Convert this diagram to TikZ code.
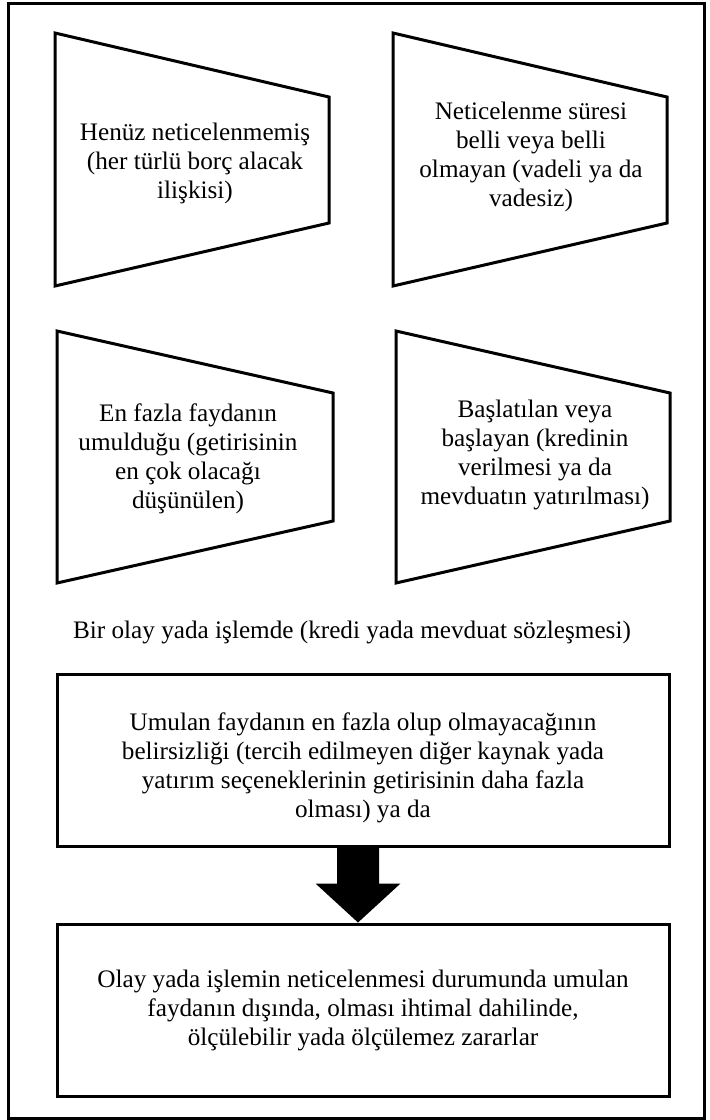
\documentclass[tikz,border=0pt]{standalone}
\usepackage{fontspec}
\setmainfont{Liberation Serif}
\usetikzlibrary{positioning,calc}

\begin{document}
\begin{tikzpicture}[x=0.5pt,y=-0.5pt,line width=1.5pt,every node/.style={font=\fontsize{12.6}{14.5}\selectfont}, t/.style={align=center,inner sep=0pt}, b/.style={draw,minimum width=306pt,minimum height=86pt,align=center}]
\useasboundingbox (0,0) rectangle (710,1120);
% outer frame
\draw (8.5,3.5) rectangle (704,1118);
% upper row
\draw (55,33) -- (329,97) -- (329,223) -- (55,286) -- cycle;
\node[t] (henuz) at (195,163) {Henüz neticelenmemiş\\(her türlü borç alacak\\ilişkisi)};
\draw (393,33) -- (667,97) -- (667,223) -- (393,286) -- cycle;
\node[t] (sure) at (531,157) {Neticelenme süresi\\belli veya belli\\olmayan (vadeli ya da\\vadesiz)};
% lower row
\draw (57,331) -- (333,393) -- (333,521) -- (57,583) -- cycle;
\node[t] (fayda) at (188,459) {En fazla faydanın\\umulduğu (getirisinin\\en çok olacağı\\düşünülen)};
\draw (396,331) -- (670,393) -- (670,521) -- (396,583) -- cycle;
\node[t] (baslat) at (535,455) {Başlatılan veya\\başlayan (kredinin\\verilmesi ya da\\mevduatın yatırılması)};
\node[t] (olay) at (352,632) {Bir olay yada işlemde (kredi yada mevduat sözleşmesi)};
% boxes
\node[b] (belirsiz) at (363,760) {};
\node[t] (belirsiztext) at ($(belirsiz)+(0,8)$) {Umulan\ faydanın\ en\ fazla\ olup olmayacağının\\belirsizliği (tercih edilmeyen diğer kaynak\ yada\\yatırım seçeneklerinin getirisinin\ daha\ fazla\\olması)\ ya\ da};
\node[b,below=37.5pt of belirsiz] (zarar) {Olay yada işlemin neticelenmesi durumunda umulan\\faydanın\ dışında, olması ihtimal dahilinde,\\ölçülebilir\ yada\ ölçülemez zararlar};
\fill ($(belirsiz.south)+(-26,0)$) -- ++(0,36) -- ++(-21.5,0) -- ($(zarar.north)+(-5,0)$) -- ++(42.5,-39) -- ++(-21.5,0) -- ($(belirsiz.south)+(16,0)$) -- cycle;
\end{tikzpicture}
\end{document}
